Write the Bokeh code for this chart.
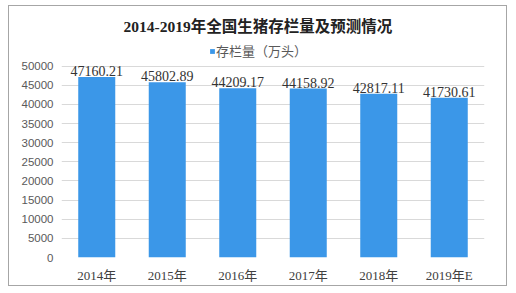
from bokeh.plotting import figure
from bokeh.models import FactorRange, FixedTicker, Legend, LegendItem, ColumnDataSource, Range1d
from bokeh.core.properties import value
from bokeh.embed import file_html
from bokeh.resources import INLINE

years = ["2014年", "2015年", "2016年", "2017年", "2018年", "2019年E"]
stock = [47160.21, 45802.89, 44209.17, 44158.92, 42817.11, 41730.61]
stock_labels = ["47160.21", "45802.89", "44209.17", "44158.92", "42817.11", "41730.61"]
y_ticks = [0, 5000, 10000, 15000, 20000, 25000, 30000, 35000, 40000, 45000, 50000]
title_text = "2014-2019年全国生猪存栏量及预测情况"
legend_text = "存栏量（万头）"

SERIF = "Liberation Serif, Noto Sans CJK SC"
CJK = "Noto Sans CJK SC"
BLUE = "#3b97e8"

src = ColumnDataSource(dict(x=years, y=stock, lab=stock_labels))

# frame extends above the 50000 line to leave room for the legend row
p = figure(width=499, height=281, x_range=FactorRange(*years, range_padding=0),
           y_range=Range1d(0, 57240), output_backend="svg", toolbar_location=None,
           min_border_left=52, min_border_right=24, min_border_top=32, min_border_bottom=30)
p.styles = {"border": "1px solid #a6a6a6", "margin-left": "8px", "margin-top": "5px"}
p.outline_line_color = None
p.background_fill_color = "white"
p.border_fill_color = "white"

bars = p.vbar(x="x", top="y", width=0.525, source=src, fill_color=BLUE, line_color=None)
p.text(x="x", y="y", text="lab", source=src, text_align="center", text_baseline="bottom",
       text_font=value(SERIF), text_font_size="14px", text_color="#333333", y_offset=-1)

p.xgrid.grid_line_color = None
p.ygrid.grid_line_color = "#d9d9d9"
p.ygrid.ticker = FixedTicker(ticks=y_ticks)

ya = p.yaxis[0]
ya.ticker = FixedTicker(ticks=y_ticks)
ya.axis_line_color = None
ya.major_tick_line_color = None
ya.minor_tick_line_color = None
ya.major_label_text_font = "Liberation Sans"
ya.major_label_text_font_size = "11.5px"
ya.major_label_text_color = "#595959"
ya.major_label_standoff = 2

xa = p.xaxis[0]
xa.axis_line_color = None
xa.major_tick_line_color = None
xa.major_label_text_font = SERIF
xa.major_label_text_font_size = "13px"
xa.major_label_text_color = "#404040"
xa.major_label_standoff = 4

legend = Legend(items=[LegendItem(label=legend_text, renderers=[bars])],
                location=(148, 197), orientation="horizontal",
                glyph_width=6, glyph_height=6, label_standoff=1, padding=0, margin=0,
                spacing=0, label_height=14,
                label_text_font=CJK, label_text_font_size="13px", label_text_color="#595959",
                border_line_color=None, background_fill_color=None)
p.add_layout(legend, "center")

p.title.text = title_text
p.title.align = "left"
p.title.offset = 62
p.title.text_font = SERIF
p.title.text_font_size = "15.5px"
p.title.text_font_style = "bold"
p.title.text_color = "#222222"
p.title.standoff = 8

open("out.html", "w").write(file_html(p, INLINE))
